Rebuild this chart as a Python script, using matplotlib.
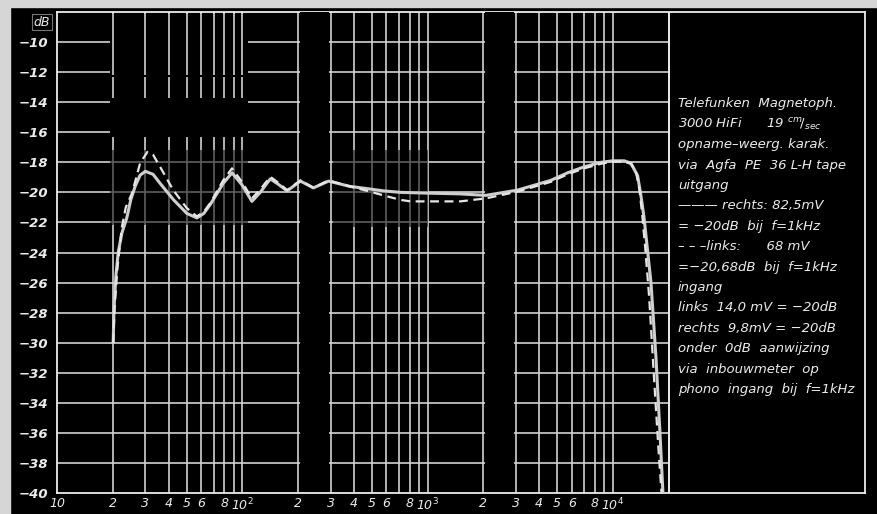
import numpy as np
import matplotlib.pyplot as plt
from matplotlib.patches import Rectangle

# frequency response (Hz, dB)
f_rechts = [20.1, 20.3, 20.8, 21.4, 22.4, 23.8, 25.0, 26.4, 28.1, 30.0,
            33.0, 36.0, 42.6, 50.2, 56.9, 62.0, 67.2, 78.9, 88.0, 99.6,
            112.7, 125, 141.6, 158, 174.5, 206, 242, 292, 380, 472,
            578, 715, 1000, 1500, 2060, 3055, 4624, 5690, 7000, 8610,
            10000, 11500, 12500, 13600, 14200, 14700, 15270, 16050, 17080, 17950,
            18620]
db_rechts = [-30.0, -27.8, -25.5, -24.0, -22.7, -21.7, -20.5, -19.6, -18.85, -18.6,
             -18.8, -19.4, -20.5, -21.4, -21.7, -21.4, -20.8, -19.4, -18.7, -19.5,
             -20.6, -20.0, -19.1, -19.5, -19.9, -19.25, -19.7, -19.25, -19.6, -19.75,
             -19.9, -20.0, -20.05, -20.1, -20.2, -19.85, -19.2, -18.7, -18.3, -18.0,
             -17.9, -17.9, -18.05, -18.9, -20.3, -21.6, -23.5, -26.0, -31.0, -36.0,
             -40.0]

f_links = [20.1, 20.5, 21.2, 22.4, 23.5, 25.4, 28.1, 30.8, 33.0, 36.0,
           42.4, 50.2, 56.9, 62.0, 67.2, 78.9, 88.0, 99.6, 112.7, 125,
           141.6, 158, 174.5, 206, 242, 292, 380, 472, 578, 715,
           809, 1000, 1500, 2060, 3055, 4624, 5690, 7000, 8610, 10000,
           11500, 12500, 13300, 13900, 14400, 14900, 15700, 16700, 17600, 18300]
db_links = [-30.0, -27.5, -25.0, -22.3, -21.0, -20.06, -18.05, -17.3, -17.5, -18.3,
            -19.85, -21.05, -21.6, -21.3, -20.7, -19.2, -18.4, -19.3, -20.4, -19.8,
            -18.96, -19.4, -19.85, -19.2, -19.7, -19.2, -19.6, -19.9, -20.2, -20.5,
            -20.6, -20.6, -20.6, -20.4, -19.95, -19.3, -18.8, -18.4, -18.1, -17.95,
            -17.95, -18.1, -18.6, -19.8, -21.5, -23.5, -27.0, -32.5, -37.0, -40.0]

y_ticks = list(range(-40, -9, 2))
x_ticks = [10, 20, 30, 40, 50, 60, 80,
           100, 200, 300, 400, 500, 600, 800,
           1000, 2000, 3000, 4000, 5000, 6000, 8000, 10000]
x_labels = ['10', '2', '3', '4', '5', '6', '8',
            '10$^2$', '2', '3', '4', '5', '6', '8',
            '10$^3$', '2', '3', '4', '5', '6', '8', '10$^4$']

notes = [
    'Telefunken  Magnetoph.',
    '3000 HiFi      19 $^{cm}\\!/_{sec}$',
    'opname\u2013weerg. karak.',
    'via  Agfa  PE  36 L-H tape',
    'uitgang',
    '\u2014\u2014\u2014 rechts: 82,5mV',
    '= \u221220dB  bij  f=1kHz',
    '\u2013 \u2013 \u2013links:      68 mV',
    '=\u221220,68dB  bij  f=1kHz',
    'ingang',
    'links  14,0 mV = \u221220dB',
    'rechts  9,8mV = \u221220dB',
    'onder  0dB  aanwijzing',
    'via  inbouwmeter  op',
    'phono  ingang  bij  f=1kHz',
]

W, H = 878, 514
GRID = '#d2d2d2'
INK = '#ececec'

fig = plt.figure(figsize=(W / 100, H / 100), dpi=100, facecolor='black')
# light paper edge of the scan
fig.patches.append(Rectangle((0, 0), 10 / W, 1, transform=fig.transFigure,
                             color='#d6d6d6', zorder=0))
fig.patches.append(Rectangle((0, 1 - 7 / H), 1, 7 / H, transform=fig.transFigure,
                             color='#d6d6d6', zorder=0))

ax = fig.add_axes([57 / W, 21 / H, 808 / W, 481 / H])
ax.set_facecolor('black')
ax.set_xscale('log')
ax.set_xlim(10, 10 ** 5.3605)
ax.set_ylim(-40, -8)

# log grid, only up to 20 kHz; the rest is the text panel
f_grid = [m * 10 ** k for k in (1, 2, 3) for m in range(2, 11)] + [2e4]
ax.vlines(f_grid, -40, -8, color=GRID, lw=1.2, zorder=1)
ax.hlines(y_ticks[1:], 10, 2e4, color=GRID, lw=1.2, zorder=1)
ax.vlines(2e4, -40, -8, color=INK, lw=1.3, zorder=1)

# dark patches of the original scan
ax.axvspan(205, 292, ymin=0.004, ymax=1, color='black', lw=0, zorder=2.6)
ax.axvspan(2050, 2930, ymin=0.004, ymax=1, color='black', lw=0, zorder=2.6)
ax.add_patch(Rectangle((19.4, -17.2), 107 - 19.4, 9.1, color='black', lw=0, zorder=2))
ax.add_patch(Rectangle((19.4, -22.2), 107 - 19.4, 5.0, color='black', alpha=0.55,
                       lw=0, zorder=2))
ax.add_patch(Rectangle((310, -22.3), 1000 - 310, 5.1, color='black', alpha=0.55,
                       lw=0, zorder=2))
f_low = [m * 10 for m in range(2, 11)]
for y0, y1 in [(-12.2, -8), (-13.7, -12.35), (-17.2, -16.3)]:
    ax.vlines(f_low, y0, y1, color=GRID, lw=1.2, zorder=2.2)

ax.plot(f_rechts, db_rechts, color='#cfcfcf', lw=2.2, zorder=4,
        solid_capstyle='round')
ax.plot(f_links, db_links, color='#e6e6e6', lw=1.6, dashes=(4, 2.5), zorder=4)

for s in ax.spines.values():
    s.set_color(INK)
    s.set_linewidth(1.3)

ax.set_yticks(y_ticks)
ax.set_yticklabels([f'\u2212{abs(v)}' for v in y_ticks])
ax.set_xticks(x_ticks)
ax.set_xticklabels(x_labels)
ax.xaxis.set_minor_locator(plt.NullLocator())
ax.tick_params(length=0, colors=INK)
ax.tick_params(axis='y', pad=6, labelsize=9.5)
ax.tick_params(axis='x', pad=3, labelsize=9)
for lab in ax.get_yticklabels():
    lab.set_fontstyle('italic')
    lab.set_fontweight('bold')
for lab in ax.get_xticklabels():
    lab.set_fontstyle('italic')

fig.text(42 / W, 1 - 22 / H, 'dB', color=INK, fontsize=9, style='italic',
         ha='center', va='center',
         bbox=dict(boxstyle='square,pad=0.15', fc='black', ec='#777777', lw=0.8))

for i, line in enumerate(notes):
    fig.text(678 / W, 1 - (104 + 20.4 * i) / H, line, color=INK, fontsize=9.5,
             style='italic', ha='left', va='center')

fig.savefig('out.png', dpi=100, facecolor='black')
